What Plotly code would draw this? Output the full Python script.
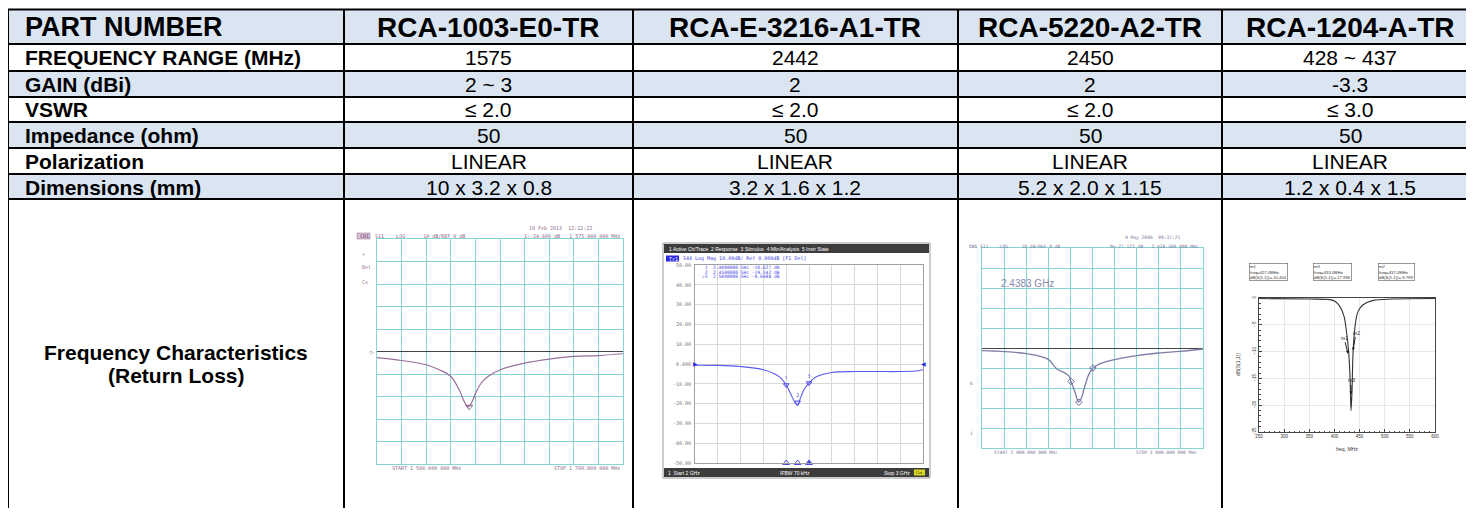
import plotly.graph_objects as go

W, H = 1474, 516          # window size
OFF = 8                   # default page body margin
WF, HF = W - 2 * OFF, H - 2 * OFF   # figure size so the page fits the window
FONT = "Liberation Sans, Arial, sans-serif"
MONO = "DejaVu Sans Mono, monospace"

# ---------------- table data ----------------
col_headers = ["PART NUMBER", "RCA-1003-E0-TR", "RCA-E-3216-A1-TR", "RCA-5220-A2-TR", "RCA-1204-A-TR"]
row_labels = ["FREQUENCY RANGE (MHz)", "GAIN (dBi)", "VSWR", "Impedance (ohm)", "Polarization", "Dimensions (mm)"]
freq_range = ["1575", "2442", "2450", "428 ~ 437"]
gain = ["2 ~ 3", "2", "2", "-3.3"]
vswr = ["≤ 2.0", "≤ 2.0", "≤ 2.0", "≤ 3.0"]
impedance = ["50", "50", "50", "50"]
polarization = ["LINEAR", "LINEAR", "LINEAR", "LINEAR"]
dimensions = ["10 x 3.2 x 0.8", "3.2 x 1.6 x 1.2", "5.2 x 2.0 x 1.15", "1.2 x 0.4 x 1.5"]
last_row_label = ["Frequency Characteristics", "(Return Loss)"]

# ---------------- chart 1 : RCA-1003-E0-TR (MHz, dB) ----------------
c1_freq_mhz = [1500, 1520, 1540, 1550.6, 1560, 1566.8, 1570.9, 1574, 1576.7, 1580.2,
               1584.8, 1590.2, 1600.3, 1620, 1640, 1660, 1680, 1700]
c1_db = [-2.7, -4.0, -5.9, -8.1, -11.1, -17.0, -22.2, -24.6, -23.0, -18.5,
         -14.0, -11.1, -8.1, -5.2, -3.4, -2.2, -1.8, -1.0]
c1_marker_freq = [1575]
c1_marker_db = [-24.6]

# ---------------- chart 2 : RCA-E-3216-A1-TR (GHz, dB) ----------------
c2_freq_ghz = [2.0, 2.1, 2.2, 2.3, 2.35, 2.38, 2.40, 2.42, 2.44, 2.45, 2.46, 2.48, 2.50,
               2.53, 2.60, 2.70, 2.80, 2.90, 2.98, 3.0]
c2_db = [-0.6, -0.7, -1.3, -2.9, -5.1, -7.5, -10.6, -15.2, -19.7, -20.9, -18.0, -12.5, -9.7,
         -6.6, -4.3, -3.8, -3.8, -3.8, -3.4, -2.9]
c2_marker_freq = [2.40, 2.45, 2.50]
c2_marker_db = [-10.627, -19.342, -9.6488]
c2_marker_names = ["1", "2", "3"]
c2_ytick_vals = [50, 40, 30, 20, 10, 0, -10, -20, -30, -40, -50]
c2_ytick_text = ["50.00", "40.00", "30.00", "20.00", "10.00", "0.000",
                 "-10.00", "-20.00", "-30.00", "-40.00", "-50.00"]

# ---------------- chart 3 : RCA-5220-A2-TR (MHz, dB) ----------------
c3_freq_mhz = [2000, 2053, 2103, 2200, 2264, 2302, 2339, 2370, 2392, 2403, 2422, 2437,
               2448, 2463, 2483, 2502, 2535, 2600, 2701, 2800, 2897, 3000]
c3_db = [-1.3, -1.5, -1.8, -2.8, -4.2, -5.8, -10.5, -12.2, -13.8, -16.7, -22.5, -27.0,
         -25.5, -20.0, -13.3, -10.0, -7.8, -5.8, -3.8, -2.5, -1.7, -0.5]
c3_marker_freq = [2403, 2438.3, 2502]
c3_marker_db = [-16.7, -27.121, -10.0]

# ---------------- chart 4 : RCA-1204-A-TR (MHz, dB) ----------------
c4_freq_mhz = [250, 351, 391, 401, 411, 419, 424, 428, 431, 433, 435, 437, 441, 447,
               457, 477, 517, 600]
c4_db = [-0.1, -0.2, -0.3, -0.6, -1.6, -3.4, -6.3, -9.7, -14.7, -21.0, -17.2, -10.3,
         -5.3, -2.5, -1.25, -0.45, -0.2, -0.1]
c4_marker_names = ["m1", "m3", "m2"]
c4_marker_freq = [427.0, 433.0, 437.0]
c4_marker_db = [-10.404, -17.996, -9.799]


def X(px):
    return (px - OFF) / WF


def Y(py):
    return 1 - (py - OFF) / HF


fig = go.Figure()
shapes = []
ann = []

# ---------------- table grid ----------------
col_x = [8, 344, 633, 958, 1222, 1478]
row_y = [9.5, 44, 71, 97, 122, 148, 174, 199, 530]
BLUE = "#dbe5f1"
row_fills = [BLUE, "white", BLUE, "white", BLUE, "white", BLUE, "white"]

for i in range(len(row_y) - 1):
    shapes.append(dict(type="rect", xref="paper", yref="paper", layer="below",
                       x0=X(col_x[0]), x1=X(col_x[-1]), y0=Y(row_y[i + 1]), y1=Y(row_y[i]),
                       fillcolor=row_fills[i], line_width=0))
for yy in row_y[:-1]:
    shapes.append(dict(type="line", xref="paper", yref="paper", layer="above",
                       x0=X(col_x[0]), x1=X(col_x[-1]), y0=Y(yy), y1=Y(yy),
                       line=dict(color="black", width=2)))
for xx in col_x:
    shapes.append(dict(type="line", xref="paper", yref="paper", layer="above",
                       x0=X(xx), x1=X(xx), y0=Y(row_y[0]), y1=Y(row_y[-1]),
                       line=dict(color="black", width=2)))

col_centers = [488.5, 795.5, 1090, 1350]
label_x = 23

# header
ann.append(dict(x=X(label_x), y=Y((row_y[0] + row_y[1]) / 2 + 0.5), xref="paper", yref="paper",
                text="<b>%s</b>" % col_headers[0], showarrow=False, xanchor="left", yanchor="middle",
                font=dict(family=FONT, size=27, color="black")))
for j, cx in enumerate(col_centers):
    ann.append(dict(x=X(cx), y=Y((row_y[0] + row_y[1]) / 2 + 0.5), xref="paper", yref="paper",
                    text="<b>%s</b>" % col_headers[j + 1], showarrow=False, xanchor="center",
                    yanchor="middle", font=dict(family=FONT, size=28, color="black")))

rows_values = [freq_range, gain, vswr, impedance, polarization, dimensions]
for i, (lab, vals) in enumerate(zip(row_labels, rows_values)):
    yc = Y((row_y[i + 1] + row_y[i + 2]) / 2 + 0.5)
    ann.append(dict(x=X(label_x), y=yc, xref="paper", yref="paper", text="<b>%s</b>" % lab,
                    showarrow=False, xanchor="left", yanchor="middle",
                    font=dict(family=FONT, size=21, color="black")))
    for j, cx in enumerate(col_centers):
        ann.append(dict(x=X(cx), y=yc, xref="paper", yref="paper", text=vals[j],
                        showarrow=False, xanchor="center", yanchor="middle",
                        font=dict(family=FONT, size=21, color="black")))

for k, line in enumerate(last_row_label):
    ann.append(dict(x=X(176), y=Y(352 + 23 * k), xref="paper", yref="paper",
                    text="<b>%s</b>" % line, showarrow=False, xanchor="center", yanchor="middle",
                    font=dict(family=FONT, size=21, color="black")))


def txt(x, y, s, size=5, color="#8a6a8a", anchor="left", family=MONO, **kw):
    d = dict(x=X(x), y=Y(y), xref="paper", yref="paper", text=s, showarrow=False,
             xanchor=anchor, yanchor="middle", font=dict(family=family, size=size, color=color))
    d.update(kw)
    return d


CYAN = "#86d5d3"

# ---------------- chart 1 ----------------
fig.add_trace(go.Scatter(x=c1_freq_mhz, y=c1_db, xaxis="x2", yaxis="y2", mode="lines",
                         line=dict(color="#9a6e9a", width=1.2, shape="spline"), hoverinfo="skip"))
fig.add_trace(go.Scatter(x=c1_marker_freq, y=c1_marker_db, xaxis="x2", yaxis="y2",
                         mode="markers+text", text=["1"], textposition="top right",
                         textfont=dict(size=5, color="#8a6a8a"),
                         marker=dict(symbol="triangle-down-open", size=6, color="#8a6a8a",
                                     line=dict(width=1)), hoverinfo="skip"))
P1 = "#8a6a8a"
shapes.append(dict(type="rect", xref="paper", yref="paper", layer="below", x0=X(357), x1=X(370),
                   y0=Y(239), y1=Y(233), fillcolor="#d9c3d9", line=dict(color=P1, width=0.5)))
ann += [
    txt(527, 228, "19 Feb 2013  12:12:22", color=P1),
    txt(358, 236, "<b>CH1</b>  S11    LOG      10 dB/REF 0 dB", color=P1),
    txt(622, 236, "1:-24.600 dB   1 575.000 000 MHz", color=P1, anchor="right"),
    txt(360, 255, "*", color=P1),
    txt(360, 267, "Del", color=P1),
    txt(360, 282, "Cs", color=P1),
    txt(390, 468, "START 1 500.000 000 MHz", color=P1),
    txt(622, 468, "STOP 1 700.000 000 MHz", color=P1, anchor="right"),
    txt(376, 352, "▷", size=5, color="#555", anchor="right", family=FONT),
]

# ---------------- chart 2 ----------------
shapes += [
    dict(type="rect", xref="paper", yref="paper", layer="below", x0=X(663), x1=X(930),
         y0=Y(478), y1=Y(243), fillcolor="white", line=dict(color="#9a9a9a", width=1)),
    dict(type="rect", xref="paper", yref="paper", layer="above", x0=X(664), x1=X(929),
         y0=Y(253), y1=Y(244), fillcolor="#3c3c3c", line_width=0),
    dict(type="rect", xref="paper", yref="paper", layer="above", x0=X(664), x1=X(929),
         y0=Y(477), y1=Y(468), fillcolor="#3c3c3c", line_width=0),
    dict(type="rect", xref="paper", yref="paper", layer="above", x0=X(666), x1=X(679),
         y0=Y(261.5), y1=Y(255.5), fillcolor="#2a2ae0", line_width=0),
    dict(type="rect", xref="paper", yref="paper", layer="above", x0=X(914), x1=X(925),
         y0=Y(475.5), y1=Y(469.5), fillcolor="#d8d820", line_width=0),
]
BL = "#4a4ae6"
ann += [
    txt(667, 248.5, "1 Active Ch/Trace  2 Response  3 Stimulus  4 Mkr/Analysis  5 Instr State",
        size=5, color="white", family=FONT),
    txt(667, 258.5, "Tr1", size=5, color="white"),
    txt(681, 258.5, "S44 Log Mag 10.00dB/ Ref 0.000dB [F1 Del]", size=5, color=BL),
    txt(700, 267.5, " 1  2.4000000 GHz -10.627 dB", size=4.6, color=BL),
    txt(700, 272, " 2  2.4500000 GHz -19.342 dB", size=4.6, color=BL),
    txt(700, 276.5, ">3  2.5000000 GHz -9.6488 dB", size=4.6, color=BL),
    txt(666, 472.5, "1  Start 2 GHz", size=5, color="white", family=FONT),
    txt(795, 472.5, "IFBW 70 kHz", size=5, color="white", family=FONT, anchor="center"),
    txt(912, 472.5, "Stop 3 GHz", size=5, color="white", family=FONT, anchor="right"),
    txt(919.5, 472.5, "Cor", size=4, color="#333", family=FONT, anchor="center"),
    txt(695, 364, "▶", size=6, color="#2a2ae0", anchor="center", family=FONT),
    txt(923, 364, "◀", size=6, color="#2a2ae0", anchor="center", family=FONT),
]
fig.add_trace(go.Scatter(x=c2_freq_ghz, y=c2_db, xaxis="x3", yaxis="y3", mode="lines",
                         line=dict(color="#5a5af0", width=1.1, shape="spline"), hoverinfo="skip"))
fig.add_trace(go.Scatter(x=c2_marker_freq, y=c2_marker_db, xaxis="x3", yaxis="y3",
                         mode="markers+text", text=c2_marker_names, textposition="top center",
                         textfont=dict(size=5, color=BL),
                         marker=dict(symbol="triangle-down-open", size=5, color=BL,
                                     line=dict(width=1)), hoverinfo="skip"))
fig.add_trace(go.Scatter(x=c2_marker_freq, y=[c2_ytick_vals[-1]] * len(c2_marker_freq),
                         xaxis="x3", yaxis="y3", mode="markers", cliponaxis=False,
                         marker=dict(symbol=["triangle-up-open", "triangle-up-open", "triangle-up"],
                                     size=6, color=BL, line=dict(width=1, color=BL)),
                         hoverinfo="skip"))

# ---------------- chart 3 ----------------
fig.add_trace(go.Scatter(x=c3_freq_mhz, y=c3_db, xaxis="x4", yaxis="y4", mode="lines",
                         line=dict(color="#7d7da8", width=1.3, shape="spline"), hoverinfo="skip"))
fig.add_trace(go.Scatter(x=c3_marker_freq, y=c3_marker_db, xaxis="x4", yaxis="y4",
                         mode="markers", marker=dict(symbol="diamond-open", size=5, color="#6a6a9a",
                                                     line=dict(width=1)), hoverinfo="skip"))
P3 = "#7a7a9a"
ann += [
    txt(1123, 238, "9 May 2006  09:37:21", color=P3, size=4.6),
    txt(967, 246, "<b>CH1</b> S11    LOG     10 dB/REF 0 dB", color=P3, size=4.6),
    txt(1201, 246, "M=-27.121 dB   2 438.300 000 MHz", color=P3, size=4.6, anchor="right"),
    txt(992, 452, "START 2 000.000 000 MHz", color=P3, size=4.6),
    txt(1199, 452, "STOP 3 000.000 000 MHz", color=P3, size=4.6, anchor="right"),
    txt(999, 283, "2.4383 GHz", color="#8888b0", size=10, family=FONT),
    txt(968, 383, "6", color=P3, size=4.6),
    txt(968, 433, "1", color=P3, size=4.6),
]

# ---------------- chart 4 ----------------
for k, (nm, f, d) in enumerate(zip(c4_marker_names, c4_marker_freq, c4_marker_db)):
    ann.append(dict(x=X(1268 + 64 * k), y=Y(271.5), xref="paper", yref="paper",
                    text="%s<br>freq=%.1fMHz<br>dB(S(1,1))=%s" % (nm, f, d), showarrow=False,
                    align="left", xanchor="center", yanchor="middle", bgcolor="white",
                    bordercolor="#555", borderwidth=0.6, borderpad=0.5,
                    font=dict(family=FONT, size=4.2, color="#333")))
offs = [(-4, -16), (0, -14), (3, -18)]
for (nm, f, d), (axo, ayo) in zip(zip(c4_marker_names, c4_marker_freq, c4_marker_db), offs):
    ann.append(dict(x=f, y=d, xref="x5", yref="y5", text=nm, showarrow=True, arrowhead=2,
                    arrowsize=0.6, arrowwidth=1, arrowcolor="#222", ax=axo, ay=ayo,
                    font=dict(family=FONT, size=5, color="#222")))
fig.add_trace(go.Scatter(x=c4_freq_mhz, y=c4_db, xaxis="x5", yaxis="y5", mode="lines",
                         line=dict(color="#333", width=1.1, shape="spline"), hoverinfo="skip"))
ann += [
    txt(1347, 449, "freq, MHz", size=5, color="#333", family=FONT, anchor="center"),
    dict(x=X(1238), y=Y(365), xref="paper", yref="paper", text="dB(S(1,1))", showarrow=False,
         textangle=-90, xanchor="center", yanchor="middle",
         font=dict(family=FONT, size=5, color="#333")),
]


def dom(x0, x1, y0, y1):
    return [X(x0), X(x1)], [Y(y1), Y(y0)]


def grid_axes(xd, yd, xr, yr, xdt, ydt, gcol, lcol, zeroline=False):
    xa = dict(domain=xd, range=xr, dtick=xdt, tick0=xr[0], showgrid=True, gridcolor=gcol,
              gridwidth=1, showline=True, mirror=True, linecolor=lcol, linewidth=1,
              zeroline=False, showticklabels=False, ticks="", fixedrange=True, automargin=False)
    ya = dict(domain=yd, range=yr, dtick=ydt, tick0=yr[0], showgrid=True, gridcolor=gcol,
              gridwidth=1, showline=True, mirror=True, linecolor=lcol, linewidth=1,
              zeroline=zeroline, zerolinecolor="#444", zerolinewidth=1,
              showticklabels=False, ticks="", fixedrange=True, automargin=False)
    return xa, ya


xd, yd = dom(377, 623, 239, 464)
xa2, ya2 = grid_axes(xd, yd, [1500, 1700], [-50, 50], 20, 10, CYAN, CYAN, zeroline=True)
xa2["anchor"] = "y2"
ya2["anchor"] = "x2"

xd, yd = dom(695, 923, 265, 463)
xa3, ya3 = grid_axes(xd, yd, [2, 3], [-50, 50], 0.1, 10, "#d9d9d9", "#a0a0a0")
xa3["anchor"] = "y3"
ya3.update(anchor="x3", showticklabels=True, tickvals=c2_ytick_vals, ticktext=c2_ytick_text,
           tickfont=dict(family=MONO, size=5, color="#777"), ticklabelstandoff=2)

xd, yd = dom(982, 1203, 248, 448)
xa4, ya4 = grid_axes(xd, yd, [2000, 3000], [-50, 50], 100, 10, CYAN, CYAN, zeroline=True)
xa4["anchor"] = "y4"
ya4["anchor"] = "x4"

xd, yd = dom(1259, 1435, 298, 432)
xa5 = dict(domain=xd, range=[250, 600], dtick=50, tick0=250, showgrid=True, gridcolor="#e8e8e8",
           showline=True, mirror=True, linecolor="#444", linewidth=1, zeroline=False,
           ticks="inside", ticklen=3, tickcolor="#444",
           minor=dict(dtick=10, ticks="inside", ticklen=1.5, tickcolor="#444"),
           tickfont=dict(family=FONT, size=4.5, color="#333"), anchor="y5", fixedrange=True,
           automargin=False)
ya5 = dict(domain=yd, range=[-25, 0], dtick=5, tick0=-25, showgrid=True, gridcolor="#e8e8e8",
           showline=True, mirror=True, linecolor="#444", linewidth=1, zeroline=False,
           ticks="inside", ticklen=3, tickcolor="#444",
           minor=dict(dtick=1, ticks="inside", ticklen=1.5, tickcolor="#444"),
           tickangle=-90, tickfont=dict(family=FONT, size=4.5, color="#333"), anchor="x5",
           fixedrange=True, automargin=False)

fig.update_layout(
    width=WF, height=HF, margin=dict(l=0, r=0, t=0, b=0, autoexpand=False),
    paper_bgcolor="white", plot_bgcolor="rgba(0,0,0,0)", showlegend=False,
    xaxis2=xa2, yaxis2=ya2, xaxis3=xa3, yaxis3=ya3, xaxis4=xa4, yaxis4=ya4,
    xaxis5=xa5, yaxis5=ya5,
    shapes=shapes, annotations=ann,
)

fig.write_html("out.html")
